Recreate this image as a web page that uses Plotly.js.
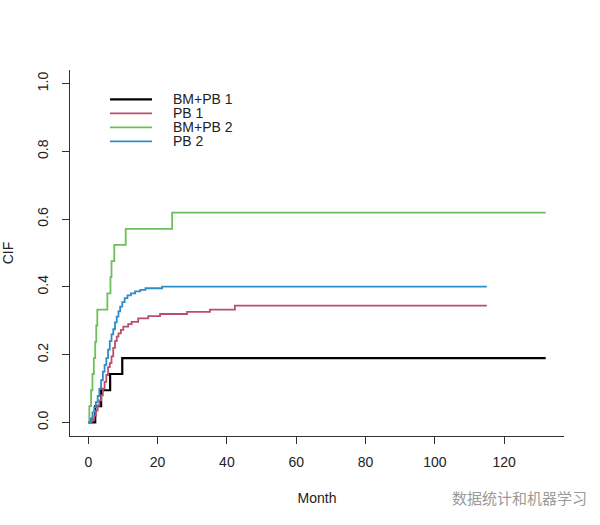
<!DOCTYPE html>
<html>
<head>
<meta charset="utf-8">
<script src="https://cdn.plot.ly/plotly-3.0.1.min.js"></script>
<style>
  html, body { margin: 0; padding: 0; background: #fff; }
  #chart { width: 600px; height: 525px; }
</style>
</head>
<body>
<div id="chart"></div>
<script>
// cumulative incidence (month, CIF)
var bmpb1Month = [0, 2.0, 3.7, 6.3, 9.8, 132];
var bmpb1Cif   = [0, 0.048, 0.095, 0.143, 0.190, 0.190];

var pb1Month = [0, 1.0, 1.7, 2.2, 2.7, 3.2, 3.7, 4.2, 4.7, 5.2, 5.7, 6.2, 6.7, 7.2, 7.7, 8.2, 8.7, 9.4, 10.1, 11.5, 12.5, 14.4, 17.3, 20.7, 28.5, 35.1, 42.3, 115];
var pb1Cif   = [0, 0.008, 0.02, 0.035, 0.05, 0.065, 0.08, 0.10, 0.12, 0.14, 0.163, 0.175, 0.195, 0.22, 0.24, 0.253, 0.263, 0.273, 0.283, 0.29, 0.297, 0.307, 0.314, 0.320, 0.326, 0.333, 0.345, 0.345];

var bmpb2Month = [0, 0.3, 0.8, 1.2, 1.6, 2.0, 2.3, 2.6, 5.5, 6.4, 6.7, 7.5, 10.8, 24.2, 132];
var bmpb2Cif   = [0, 0.048, 0.095, 0.143, 0.190, 0.238, 0.286, 0.333, 0.381, 0.429, 0.476, 0.524, 0.571, 0.619, 0.619];

var pb2Month = [0, 0.7, 1.2, 1.7, 2.2, 2.7, 3.2, 3.7, 4.2, 4.7, 5.2, 5.7, 6.2, 6.7, 7.2, 7.7, 8.2, 8.7, 9.2, 9.8, 10.5, 11.3, 12.3, 13.5, 15.0, 16.5, 21.3, 115];
var pb2Cif   = [0, 0.012, 0.03, 0.045, 0.06, 0.078, 0.10, 0.125, 0.15, 0.17, 0.19, 0.215, 0.24, 0.26, 0.275, 0.295, 0.312, 0.328, 0.342, 0.355, 0.367, 0.375, 0.381, 0.387, 0.391, 0.396, 0.401, 0.401];

var seriesNames = ['BM+PB 1', 'PB 1', 'BM+PB 2', 'PB 2'];
var seriesColors = ['#000000', '#B8506C', '#6CBF5A', '#2E8CC8'];

var xTicks = [0, 20, 40, 60, 80, 100, 120];
var yTicks = [0, 0.2, 0.4, 0.6, 0.8, 1.0];

var months = [bmpb1Month, pb1Month, bmpb2Month, pb2Month];
var cifs = [bmpb1Cif, pb1Cif, bmpb2Cif, pb2Cif];

var font = 'Liberation Sans, Arial, sans-serif';

var data = [];
for (var i = 0; i < 4; i++) {
  data.push({
    x: months[i],
    y: cifs[i],
    name: seriesNames[i],
    type: 'scatter',
    mode: 'lines',
    line: {shape: 'hv', color: seriesColors[i], width: i == 0 ? 2.2 : 1.8}
  });
}

// R style legend: tight rows, long line keys
var shapes = [];
var annotations = [];
var legTop = 0.920, legStep = 0.0383;
for (var j = 0; j < seriesNames.length; j++) {
  var ly = legTop - j * legStep;
  shapes.push({
    type: 'line', xref: 'paper', yref: 'paper',
    x0: 0.081, x1: 0.166, y0: ly, y1: ly,
    line: {color: seriesColors[j], width: j == 0 ? 2.2 : 1.8}
  });
  annotations.push({
    xref: 'paper', yref: 'paper', x: 0.204, y: ly,
    xanchor: 'left', yanchor: 'middle', showarrow: false,
    text: seriesNames[j],
    font: {family: font, size: 14, color: '#222'}
  });
}

annotations.push({
  xref: 'paper', yref: 'paper',
  x: 1.05, y: -0.167, xanchor: 'right', yanchor: 'middle',
  text: '数据统计和机器学习', showarrow: false,
  font: {family: 'Noto Sans CJK SC', size: 15, color: '#9a9a9a'}
});

var layout = {
  width: 600,
  height: 525,
  margin: {l: 70, r: 36, t: 70, b: 89},
  paper_bgcolor: '#fff',
  plot_bgcolor: '#fff',
  font: {family: font, size: 14, color: '#222'},
  showlegend: false,
  xaxis: {
    range: [-5.28, 137.28],
    tickvals: xTicks,
    ticks: 'outside', ticklen: 7, tickcolor: '#333',
    showline: true, linecolor: '#333', linewidth: 1,
    showgrid: false, zeroline: false,
    ticklabelstandoff: 6,
    title: {text: 'Month', standoff: 24, font: {family: font, size: 14}}
  },
  yaxis: {
    range: [-0.04, 1.04],
    tickvals: yTicks,
    tickformat: '.1f',
    tickangle: -90,
    ticks: 'outside', ticklen: 7, tickcolor: '#333',
    showline: true, linecolor: '#333', linewidth: 1,
    showgrid: false, zeroline: false,
    ticklabelstandoff: 8,
    title: {text: 'CIF', standoff: 18, font: {family: font, size: 14}}
  },
  shapes: shapes,
  annotations: annotations
};

Plotly.newPlot('chart', data, layout, {displayModeBar: false});
</script>
</body>
</html>
